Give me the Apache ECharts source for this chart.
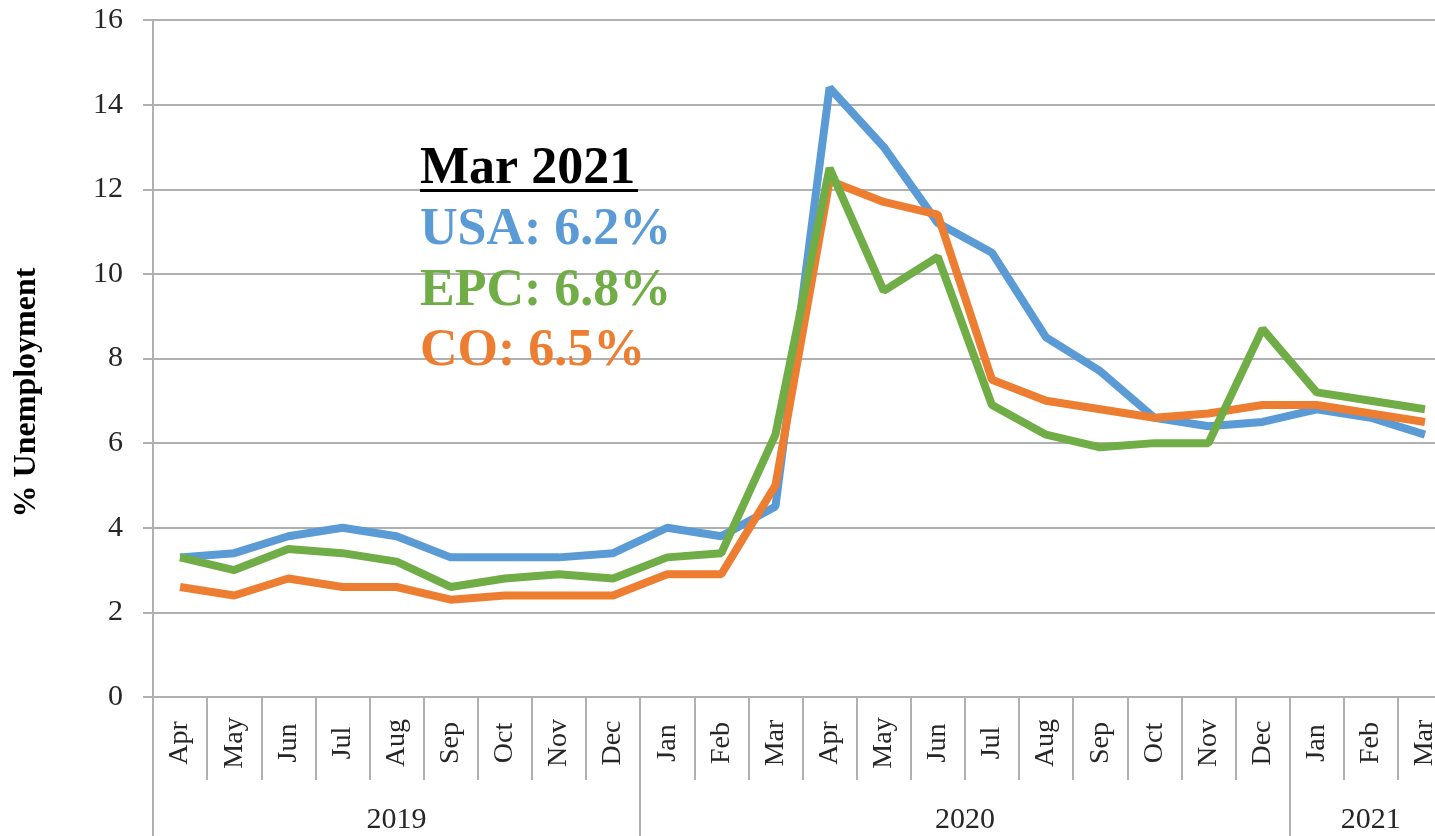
<!DOCTYPE html>
<html>
<head>
<meta charset="utf-8">
<script src="https://cdn.jsdelivr.net/npm/echarts@6/dist/echarts.min.js"></script>
<style>
html,body{margin:0;padding:0;background:#fff;overflow:hidden;width:1435px;height:836px;}
#chart{width:1452px;height:836px;}
</style>
</head>
<body>
<div id="chart"></div>
<script>
var months = ['Apr','May','Jun','Jul','Aug','Sep','Oct','Nov','Dec','Jan','Feb','Mar','Apr','May','Jun','Jul','Aug','Sep','Oct','Nov','Dec','Jan','Feb','Mar'];
var years = ['2019','2020','2021'];
var yearMonthCounts = [9, 12, 3];
var usa = [3.3,3.4,3.8,4.0,3.8,3.3,3.3,3.3,3.4,4.0,3.8,4.5,14.4,13.0,11.2,10.5,8.5,7.7,6.6,6.4,6.5,6.8,6.6,6.2];
var epc = [3.3,3.0,3.5,3.4,3.2,2.6,2.8,2.9,2.8,3.3,3.4,6.2,12.5,9.6,10.4,6.9,6.2,5.9,6.0,6.0,8.7,7.2,7.0,6.8];
var co  = [2.6,2.4,2.8,2.6,2.6,2.3,2.4,2.4,2.4,2.9,2.9,5.0,12.2,11.7,11.4,7.5,7.0,6.8,6.6,6.7,6.9,6.9,6.7,6.5];
var annotTitle = 'Mar 2021';
var annotLines = ['USA: 6.2%','EPC: 6.8%','CO: 6.5%'];

var BLUE = '#5B9BD5', GREEN = '#70AD47', ORANGE = '#ED7D31';
var SERIF = '"Liberation Serif","Times New Roman",serif';
var GRID = '#b0b0b0';

// Year axis built on half-month slots (boundaryGap false)
var n = months.length * 2 + 1;
var yearSlots = [];
for (var i = 0; i < n; i++) yearSlots.push('');
var tickIdx = {0: true};
var labelIdx = {};
var acc = 0;
for (var k = 0; k < years.length; k++) {
  var mid = acc * 2 + yearMonthCounts[k];
  yearSlots[mid] = years[k];
  labelIdx[mid] = true;
  acc += yearMonthCounts[k];
  tickIdx[acc * 2] = true;
}

var chart = echarts.init(document.getElementById('chart'));
chart.setOption({
  animation: false,
  backgroundColor: '#fff',
  grid: {left: 153, top: 20, right: 0, bottom: 139, containLabel: false, outerBoundsMode: 'none'},
  xAxis: [{
    type: 'category',
    data: months,
    boundaryGap: true,
    axisLine: {show: true, lineStyle: {color: GRID, width: 2}},
    axisTick: {show: true, interval: 0, length: 83, lineStyle: {color: GRID, width: 2}},
    axisLabel: {interval: 0, rotate: 90, align: 'center', margin: 46, fontFamily: SERIF, fontSize: 28, color: '#262626'},
    splitLine: {show: false}
  }, {
    type: 'category',
    data: yearSlots,
    position: 'bottom',
    boundaryGap: false,
    axisLine: {show: false},
    axisTick: {show: true, length: 150, interval: function (idx) { return !!tickIdx[idx]; }, lineStyle: {color: GRID, width: 2}},
    axisLabel: {interval: function (idx) { return !!labelIdx[idx]; }, margin: 108, fontFamily: SERIF, fontSize: 30, color: '#262626'},
    splitLine: {show: false}
  }],
  yAxis: {
    type: 'value',
    min: 0, max: 16, interval: 2,
    name: '% Unemployment',
    nameLocation: 'middle',
    nameGap: 110,
    nameRotate: 90,
    nameTextStyle: {fontFamily: SERIF, fontSize: 32, fontWeight: 'bold', color: '#000', padding: [0, 68, 0, 0]},
    axisLine: {show: true, lineStyle: {color: GRID, width: 2}},
    axisTick: {show: true, length: 10, lineStyle: {color: GRID, width: 2}},
    axisLabel: {margin: 30, fontFamily: SERIF, fontSize: 30, color: '#262626'},
    splitLine: {show: true, lineStyle: {color: GRID, width: 2}}
  },
  series: [
    {name: 'USA', type: 'line', data: usa, xAxisIndex: 0, symbol: 'none', lineStyle: {color: BLUE, width: 8}, itemStyle: {color: BLUE}, z: 3},
    {name: 'CO', type: 'line', data: co, xAxisIndex: 0, symbol: 'none', lineStyle: {color: ORANGE, width: 8}, itemStyle: {color: ORANGE}, z: 4},
    {name: 'EPC', type: 'line', data: epc, xAxisIndex: 0, symbol: 'none', lineStyle: {color: GREEN, width: 8}, itemStyle: {color: GREEN}, z: 5}
  ],
  graphic: [
    {type: 'text', left: 420, top: 144, z: 10, style: {text: annotTitle, font: 'bold 52px ' + SERIF, fill: '#000'}},
    {type: 'rect', shape: {x: 420, y: 189, width: 218, height: 3}, style: {fill: '#000'}, z: 10},
    {type: 'text', left: 420, top: 205, z: 10, style: {text: annotLines[0], font: 'bold 52px ' + SERIF, fill: BLUE}},
    {type: 'text', left: 420, top: 266, z: 10, style: {text: annotLines[1], font: 'bold 52px ' + SERIF, fill: GREEN}},
    {type: 'text', left: 420, top: 326, z: 10, style: {text: annotLines[2], font: 'bold 52px ' + SERIF, fill: ORANGE}}
  ]
});
</script>
</body>
</html>
